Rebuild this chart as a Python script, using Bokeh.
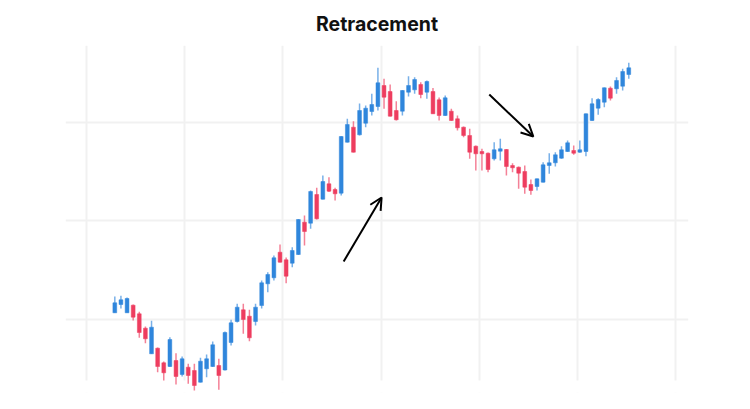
from bokeh.plotting import figure
from bokeh.models import ColumnDataSource, FixedTicker, Range1d, Arrow, OpenHead, BoxAnnotation
from bokeh.embed import file_html
from bokeh.resources import INLINE

# ---- data ----
open_ = [87.7, 96, 87.7, 95.3, 86.7, 72.3, 46.7, 52.3, 37.7, 34, 40, 26, 33.3, 30, 18.3, 31.7, 34, 35, 30.5, 58,
         79, 90.7, 84.3, 79, 95, 116.7, 122.7, 148.3, 140.7, 137.3, 146, 178.3, 177.3, 206, 201.3, 216.7, 211, 207.3, 258.3, 273.3,
         265.7, 277.3, 289, 294, 315, 309, 290, 289.3, 308.3, 310.7, 316, 308.3, 309, 300.7, 285, 289.3, 281.7, 273.3, 265, 254.3,
         249, 247.3, 241.7, 249.3, 251, 235, 233.3, 229, 216, 214, 218.3, 235, 237.7, 242.3, 249, 250, 248.3, 249, 280, 292.3,
         298.3, 312.3, 311.7, 314.3, 326]
close = [97.7, 100.7, 102, 83.3, 68, 61.7, 73.3, 34, 27.7, 61, 24, 41.7, 25, 15, 39.3, 41.7, 55.7, 25, 68, 77.7,
         93.3, 81, 62.7, 93.3, 117.7, 126, 142.7, 138.3, 124.3, 150, 181, 169, 209, 181.7, 219, 209.3, 206.7, 264, 276, 248.3,
         290, 292.3, 296, 317.7, 303.3, 284.3, 280.7, 310, 315, 321, 306, 319, 286.7, 285, 302.7, 280, 272.7, 265, 248.3, 246.7,
         246.7, 231, 250.7, 251.7, 234, 232.7, 227.3, 213.3, 210, 221.7, 235.7, 237.7, 245.7, 250.7, 257.7, 247.3, 250.7, 286.7, 296.7, 301,
         312.7, 302.3, 320, 329, 332.7]
high = [104, 104.7, 103, 96, 88.7, 74, 79.7, 53, 39, 63.3, 47.3, 44, 36.7, 36.7, 42.7, 46, 59, 41.7, 69, 80.7,
        96.7, 96.7, 90.7, 96.7, 120, 128.3, 145, 156, 143, 153.3, 181.5, 185, 210, 212.7, 225, 223.3, 212.7, 264.5, 281.7, 279.3,
        297, 295, 306.7, 332.7, 321.7, 316, 299.3, 310.5, 324.3, 323.3, 318.3, 320, 312.5, 303, 305, 291.7, 285, 274, 271.7, 255,
        251.7, 248, 258.3, 261.7, 251.5, 237.3, 234, 235, 221, 222, 238.3, 247.3, 248.3, 254.3, 260, 255, 260, 287, 302.3, 302.3,
        313, 314, 323.3, 331.7, 337.7]
low = [87.5, 92, 87.5, 80, 62.7, 57.3, 46.5, 28.3, 20, 33.5, 16, 24, 16.7, 10, 18, 23.3, 33.5, 10.7, 30, 55,
       78, 66.7, 59.3, 75, 92, 108.3, 120, 138, 117.3, 133.3, 145.5, 155, 171.7, 181, 201, 208.5, 200, 205, 258, 248,
       265, 273.3, 285, 290, 291.7, 284, 280, 285, 304, 306.7, 302.3, 301.7, 286.5, 280, 284.5, 279.5, 270, 263.3, 241.7, 230,
       230, 228.3, 240, 240, 225, 228.3, 211.7, 206.7, 205.7, 210, 218, 226.7, 234, 241.7, 248.5, 245.7, 247.7, 244.3, 279.5, 285.7,
       293.3, 300, 306.7, 310, 321.7]
index = list(range(len(close)))

UP_BODY, DOWN_BODY = "#2f86dc", "#ee3d5f"

body_color = [UP_BODY if c >= o else DOWN_BODY for o, c in zip(open_, close)]
src = ColumnDataSource(dict(
    x=index, o=open_, c=close, h=high, l=low,
    top=[max(o, c) for o, c in zip(open_, close)],
    bot=[min(o, c) for o, c in zip(open_, close)],
    col=body_color,
))

p = figure(width=734, height=393, output_backend="svg", toolbar_location=None,
           x_range=Range1d(-8.06, 93.76), y_range=Range1d(8, 355),
           min_border_left=65, min_border_right=46, min_border_top=45, min_border_bottom=1)
p.title.text = "Retracement"
p.title.align = "center"
p.title.text_font = "Inter"
p.title.text_font_style = "bold"
p.title.text_font_size = "19.5px"
p.title.text_color = "#111111"
p.title.standoff = 19

p.xaxis.visible = False
p.yaxis.visible = False
xt = FixedTicker(ticks=[-4.62 + 16.05 * k for k in range(7)])
yt = FixedTicker(ticks=[80.9, 179.7, 278.5])
p.xaxis.ticker = xt
p.yaxis.ticker = yt
p.xgrid.ticker = xt
p.ygrid.ticker = yt
p.xgrid.grid_line_color = "#f1f1f1"
p.ygrid.grid_line_color = "#f1f1f1"
p.xgrid.grid_line_width = 2
p.ygrid.grid_line_width = 2
p.outline_line_color = None
p.background_fill_color = "white"
p.border_fill_color = "white"

# grid area ends above the lowest wicks: mask the grid below it (under the glyphs)
p.add_layout(BoxAnnotation(top=20, level="underlay", fill_color="white", fill_alpha=1.0,
                           line_color=None))

p.segment(x0="x", y0="h", x1="x", y1="l", source=src, line_color="col", line_alpha=0.65, line_width=1.5)
p.vbar(x="x", width=0.62, top="top", bottom="bot", source=src,
       fill_color="col", line_color="col", line_alpha=0.5, line_width=1)

p.add_layout(Arrow(end=OpenHead(size=12, line_width=2, line_color="black"),
                   x_start=37.4, y_start=139, x_end=43.6, y_end=203,
                   line_width=2, line_color="black"))
p.add_layout(Arrow(end=OpenHead(size=12, line_width=2, line_color="black"),
                   x_start=61.2, y_start=306, x_end=68.4, y_end=264,
                   line_width=2, line_color="black"))

open("out.html", "w").write(file_html(p, INLINE))
